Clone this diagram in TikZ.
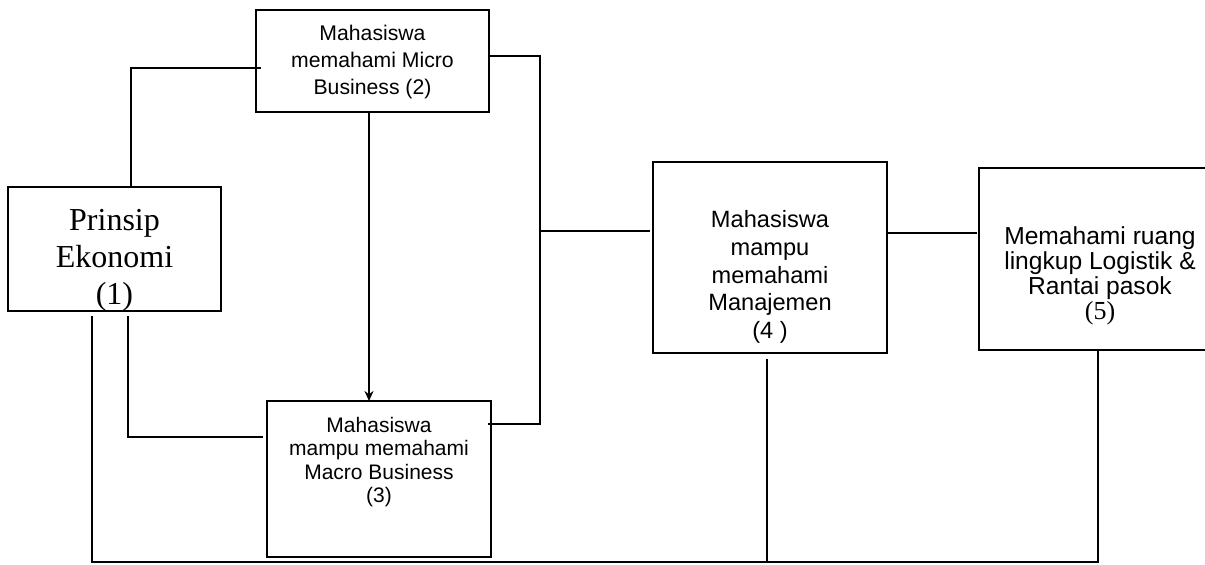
\documentclass[tikz,border=0pt]{standalone}
\usepackage{fontspec}
\setmainfont{Liberation Sans}
\newfontfamily\hurufserif{Liberation Serif}
\usetikzlibrary{arrows.meta}
\tikzset{
	kotak/.style={draw, line width=1pt, inner sep=0pt, outer sep=0pt},
	garis/.style={line width=1pt},
	teks/.style={align=center, inner sep=0pt},
}
\begin{document}
\begin{tikzpicture}[x=0.5pt, y=-0.5pt]
	\useasboundingbox (0,0) rectangle (1205,564);
	\clip (0,0) rectangle (1205,564);
	% Kotak
	\node[kotak, minimum width=106.5pt, minimum height=62pt] (prinsip) at (114.5,249) {};
	\node[kotak, minimum width=116.5pt, minimum height=51pt] (micro) at (372.5,61) {};
	\node[kotak, minimum width=112pt, minimum height=78pt] (macro) at (379,479) {};
	\node[kotak, minimum width=117pt, minimum height=95.5pt] (manajemen) at (770,257.5) {};
	\node[kotak, minimum width=123pt, minimum height=91pt] (logistik) at (1102,259) {};

	% Teks di dalam kotak
	\node[teks, font=\hurufserif\fontsize{16}{18.5}\selectfont] (tprinsip) at (114.5,260)
		{Prinsip\\Ekonomi\\(1)};
	\node[teks, font=\fontsize{10.6}{13.4}\selectfont] (tmicro) at (372.5,62)
		{Mahasiswa\\memahami Micro\\Business (2)};
	\node[teks, font=\fontsize{10.5}{11.6}\selectfont] (tmacro) at (379,462)
		{Mahasiswa\\mampu memahami\\Macro Business\\(3)};
	\node[teks, font=\fontsize{11.8}{13.8}\selectfont] (tmanajemen) at (770,277)
		{Mahasiswa\\mampu\\memahami\\Manajemen\\(4 )};
	\node[teks, font=\fontsize{12.3}{12.5}\selectfont] (tlogistik) at (1100,276)
		{Memahami ruang\\lingkup Logistik \&\\Rantai pasok\\{\hurufserif\fontsize{13}{12.5}\selectfont (5)}};

	% Titik belok
	\coordinate (k1) at (131,68);
	\coordinate (k2) at (540,56);
	\coordinate (k3) at (540,424);
	\coordinate (k4) at (540,231);
	\coordinate (k5) at (930,233);
	\coordinate (k6) at (369,0);
	\coordinate (k7) at (128,437);
	\coordinate (k8) at (92,562);
	\coordinate (k9) at (1098,562);
	\coordinate (k10) at (767,562);

	% Garis penghubung
	\draw[garis] (prinsip.north -| k1) -- (k1) -- ([xshift=2.5pt]k1 -| micro.west);
	\draw[garis] (k2 -| micro.east) -- (k2) -- (k3) -- ([xshift=-1.5pt]k3 -| macro.east);
	\draw[garis] (k4) -- ([xshift=-1.5pt]k4 -| manajemen.west);
	\draw[garis] (k5 -| manajemen.east) -- ([xshift=-1pt]k5 -| logistik.west);
	\draw[garis, -{Stealth[length=5pt, width=4.5pt]}] (micro.south -| k6) -- (macro.north -| k6);
	\draw[garis] ([yshift=-2.5pt]prinsip.south -| k7) -- (k7) -- ([xshift=-2pt]k7 -| macro.west);
	\draw[garis] ([yshift=-2.5pt]prinsip.south -| k8) -- (k8) -- (k9) -- (logistik.south -| k9);
	\draw[garis] ([yshift=-3pt]manajemen.south -| k10) -- (k10);
\end{tikzpicture}
\end{document}
